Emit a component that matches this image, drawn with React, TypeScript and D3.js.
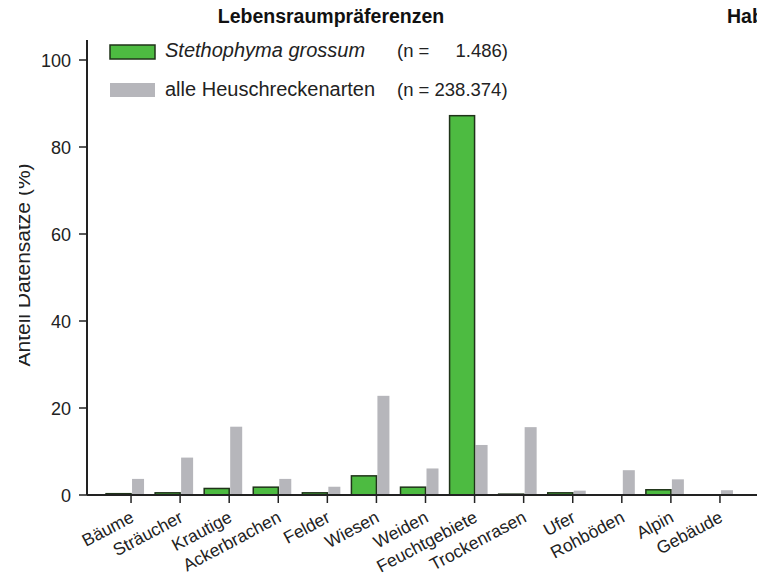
import React from "react";
import * as d3 from "d3";

const categories = ["Bäume", "Sträucher", "Krautige", "Ackerbrachen", "Felder", "Wiesen", "Weiden", "Feuchtgebiete", "Trockenrasen", "Ufer", "Rohböden", "Alpin", "Gebäude"];
const stethophyma = [0.3, 0.5, 1.5, 1.8, 0.5, 4.4, 1.8, 87.2, 0.2, 0.5, 0, 1.2, 0];
const alleArten = [3.7, 8.6, 15.7, 3.7, 1.9, 22.8, 6.1, 11.5, 15.6, 1.0, 5.7, 3.6, 1.1];
const yTicks = [0, 20, 40, 60, 80, 100];
const seriesNames = ["Stethophyma grossum", "alle Heuschreckenarten"];
const seriesN = ["1.486", "238.374"];
const title = "Lebensraumpräferenzen";
const title2 = "Hab";
const yLabel = "Anteil Datensätze (%)";

const W = 757, H = 580;
const FONT = "'Liberation Sans', Arial, Helvetica, sans-serif";
const GREEN = "#4dbb41";
const GREEN_STROKE = "#1f3319";
const GRAY = "#b6b6bb";
const AXIS = "#222";

export default function App() {
  const x0 = 87, y0 = 495;
  const y = d3.scaleLinear().domain([0, 100]).range([y0, 60]);
  const x = d3.scaleBand().domain(categories).range([106.5, 744.5]).padding(0);
  const cx = (c: string) => (x(c) as number) + x.bandwidth() / 2;
  const greenW = 25, grayW = 12, grayGap = 1;

  return (
    <svg width={W} height={H} style={{ display: "block", position: "absolute", left: 0, top: 0, background: "#fff" }} fontFamily={FONT}>
      <defs>
        <clipPath id="ylabclip"><rect x={19} y={0} width={60} height={H} /></clipPath>
      </defs>
      <rect x={0} y={0} width={W} height={H} fill="#fff" />
      {/* titles */}
      <text x={331} y={23} fontSize={19.5} fontWeight="bold" textAnchor="middle" fill="#111">{title}</text>
      <text x={727} y={23} fontSize={19.5} fontWeight="bold" fill="#111">{title2}</text>

      {/* y label */}
      <g clipPath="url(#ylabclip)">
        <text transform={`translate(30,265) rotate(-90)`} fontSize={21} textAnchor="middle" fill="#222">{yLabel}</text>
      </g>

      {/* bars */}
      {categories.map((c, i) => (
        <g key={c}>
          <rect x={cx(c) + grayGap} y={y(alleArten[i])} width={grayW} height={y0 - y(alleArten[i])} fill={GRAY} />
          <rect x={cx(c) - greenW} y={y(stethophyma[i])} width={greenW} height={Math.max(0, y0 - y(stethophyma[i]))} fill={GREEN} stroke={GREEN_STROKE} strokeWidth={1.5} />
        </g>
      ))}

      {/* y axis */}
      <line x1={x0} x2={x0} y1={40} y2={y0} stroke={AXIS} strokeWidth={2} />
      {yTicks.map(t => (
        <g key={t}>
          <line x1={x0 - 8} x2={x0} y1={y(t)} y2={y(t)} stroke={AXIS} strokeWidth={1.5} />
          <text x={x0 - 16} y={y(t) + 6.5} fontSize={18} textAnchor="end" fill="#222">{t}</text>
        </g>
      ))}

      {/* x axis */}
      <line x1={x0} x2={W} y1={y0} y2={y0} stroke={AXIS} strokeWidth={2} />
      {categories.map(c => (
        <g key={c}>
          <line x1={cx(c)} x2={cx(c)} y1={y0} y2={y0 + 8} stroke={AXIS} strokeWidth={1.5} />
          <text transform={`translate(${cx(c) + 4},${y0 + 26}) rotate(-28)`} fontSize={17.5} textAnchor="end" fill="#222">{c}</text>
        </g>
      ))}

      {/* legend */}
      <rect x={110} y={45} width={45} height={14} fill={GREEN} stroke={GREEN_STROKE} strokeWidth={1.5} />
      <text x={165} y={57} fontSize={20} fontStyle="italic" fill="#222">{seriesNames[0]}</text>
      <text x={397} y={57} fontSize={18.5} fill="#222">(n =</text>
      <text x={508} y={57} fontSize={18.5} textAnchor="end" fill="#222">{seriesN[0] + ")"}</text>
      <rect x={110} y={83} width={45} height={14} fill={GRAY} />
      <text x={165} y={96} fontSize={20} fill="#222">{seriesNames[1]}</text>
      <text x={397} y={96} fontSize={18.5} fill="#222">{`(n = ${seriesN[1]})`}</text>
    </svg>
  );
}
